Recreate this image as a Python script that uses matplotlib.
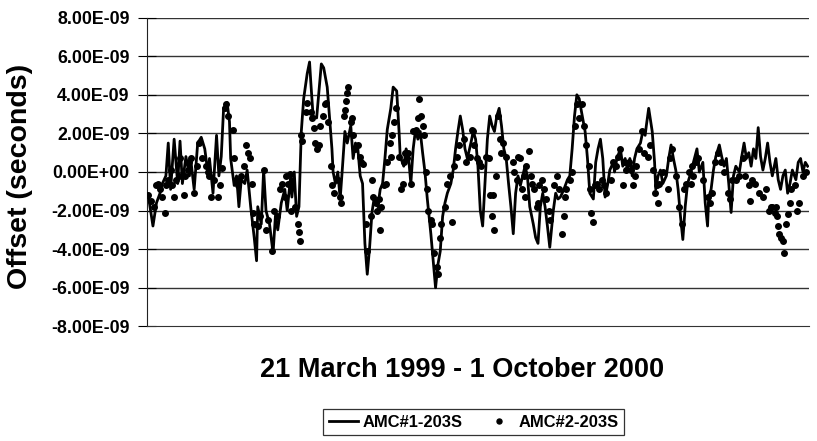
import numpy as np
import matplotlib
matplotlib.use("Agg")
import matplotlib.pyplot as plt
from matplotlib.ticker import FuncFormatter

plt.rcParams['font.family'] = ['Liberation Sans', 'DejaVu Sans']

# AMC#1-203S, day since 21 March 1999 and offset in ns
amc1_day = [0, 4, 7, 10, 12, 15, 17, 19, 22, 25, 27, 29, 32, 35, 36, 39, 42, 45, 48, 51,
            52, 55, 58, 60, 62, 64, 67, 69, 70, 73, 75, 77, 79, 82, 84, 87, 90, 92, 93, 96,
            98, 100, 103, 106, 108, 110, 113, 116, 118, 121, 122, 124, 126, 128, 130, 132, 135, 137, 138, 140,
            143, 145, 147, 149, 152, 154, 156, 157, 159, 161, 163, 165, 167, 169, 172, 174, 176, 178, 180, 182,
            184, 186, 188, 190, 192, 195, 197, 199, 201, 203, 206, 208, 211, 213, 214, 217, 219, 221, 223, 225,
            227, 229, 231, 233, 235, 237, 240, 242, 244, 246, 248, 250, 252, 254, 257, 259, 261, 263, 265, 267,
            269, 271, 274, 276, 278, 280, 282, 284, 286, 288, 290, 292, 294, 296, 298, 300, 302, 304, 306, 308,
            310, 312, 314, 316, 318, 320, 322, 324, 327, 329, 331, 333, 335, 337, 339, 341, 344, 346, 348, 350,
            353, 356, 358, 360, 362, 364, 366, 368, 371, 373, 375, 378, 380, 382, 384, 386, 388, 390, 392, 395,
            396, 398, 401, 403, 405, 407, 409, 411, 413, 415, 418, 420, 422, 423, 425, 428, 430, 431, 433, 435,
            437, 440, 442, 444, 446, 448, 450, 452, 454, 456, 458, 460, 463, 466, 468, 471, 473, 475, 476, 478,
            480, 482, 485, 487, 489, 491, 493, 495, 497, 499, 502, 504, 506, 508, 510, 512, 514, 516, 518, 520,
            522, 524, 526, 528, 530, 533, 535, 537, 539, 541, 543, 545, 547, 550, 552, 554, 556, 558, 560]
amc1_ns = [-1.2, -2.8, -1.6, -1.1, -0.6, -0.2, 1.5, -0.9, 1.7, -0.6, 1.6, -0.6, 0.8, -0.2, 0.7, -0.9, 1.5, 1.8, 1.2, -0.2,
           0.7, -1.1, 1.9, -0.2, 0.8, 3.3, 3.6, 2.6, 0.7, -0.7, -0.2, -1.8, -0.4, -0.6, 0.1, -1.8, -3.4, -4.6, -1.8, -2.7,
           0.1, -2.0, -2.7, -4.2, -2.3, -3.0, -1.6, -0.9, -2.0, -0.2, -1.3, 0.0, -2.3, -1.8, 2.1, 3.8, 5.1, 5.7, 4.7, 2.9,
           2.8, 4.2, 5.6, 5.4, 4.4, 2.8, 1.2, 0.0, -0.6, 0.0, -1.4, 0.3, 2.1, 1.5, 2.4, 0.7, 1.5, 1.2, -0.2, -0.6,
           -3.7, -5.3, -3.9, -2.1, -1.3, -1.8, -0.9, -0.6, 0.7, 2.2, 3.3, 4.4, 4.2, 2.1, 0.8, 0.3, 1.2, 0.8, -0.6, 1.2,
           2.2, 1.7, 2.1, 1.0, 0.0, -1.4, -3.2, -4.6, -6.0, -4.8, -4.1, -2.3, -1.6, -1.1, -0.6, 0.1, 1.2, 2.1, 2.9, 2.2,
           1.2, 0.7, 1.5, 2.1, 1.7, 0.3, -2.0, -2.8, -0.6, 1.7, 2.9, 2.4, 2.1, 2.9, 3.3, 2.4, 1.2, 0.7, -0.6, -1.8,
           -3.2, -1.1, -0.2, -0.7, -0.2, 0.3, -0.2, -1.8, -2.7, -3.4, -3.7, -1.8, -1.1, -1.8, -2.8, -3.9, -2.0, -1.1, -1.4, -1.3,
           -0.9, -0.4, -0.2, 1.2, 2.9, 4.0, 3.8, 3.1, 2.1, 0.7, -1.1, -1.4, 0.5, 1.2, 1.7, 0.7, -1.3, -0.7, 0.1, 0.5,
           0.0, 0.7, 1.2, 0.3, 0.7, 0.1, 0.7, -0.2, 0.7, 1.2, 1.5, 2.1, 1.9, 2.4, 3.3, 2.1, 0.5, -0.9, -0.2, 0.1,
           -0.6, -0.2, 0.7, 1.4, 0.7, 0.1, -0.9, -2.3, -3.5, -1.8, -0.6, -0.2, 0.5, 1.2, 0.0, 0.5, -1.6, -2.8, -1.3, -0.9,
           0.1, 0.8, 1.4, 0.8, 0.3, 0.7, -0.6, -2.1, -0.2, 0.3, 0.0, 0.8, 1.5, 0.7, 1.0, 0.3, 1.2, 0.7, 2.3, 0.8,
           0.1, 0.7, 1.5, 0.5, -0.2, 0.7, -0.4, -0.9, -0.2, 0.1, -1.1, -0.6, 0.1, -0.4, 0.5, 0.7, 0.0, 0.5, 0.3]

# AMC#2-203S
amc2_day = [0, 2, 5, 7, 8, 10, 12, 14, 15, 17, 19, 20, 22, 24, 26, 27, 30, 31, 34, 35,
            36, 39, 41, 43, 46, 49, 51, 52, 53, 56, 59, 61, 63, 65, 66, 68, 72, 73, 75, 76,
            79, 81, 83, 85, 86, 88, 89, 90, 93, 95, 98, 100, 102, 105, 107, 109, 112, 114, 116, 117,
            119, 120, 121, 125, 127, 128, 129, 130, 131, 134, 135, 138, 139, 141, 142, 143, 145, 146, 148, 150,
            151, 153, 155, 156, 158, 161, 163, 164, 166, 167, 168, 169, 170, 172, 173, 174, 176, 178, 180, 181,
            182, 185, 186, 189, 190, 191, 193, 194, 196, 197, 198, 200, 202, 203, 205, 206, 207, 209, 210, 213,
            215, 216, 217, 218, 220, 221, 223, 225, 227, 229, 230, 232, 233, 234, 236, 237, 238, 240, 241, 243,
            245, 246, 248, 249, 252, 254, 256, 258, 260, 262, 264, 268, 270, 273, 276, 275, 277, 279, 281, 283,
            287, 289, 290, 292, 293, 294, 295, 297, 299, 300, 301, 304, 310, 311, 313, 314, 316, 317, 319, 320,
            321, 323, 325, 326, 328, 330, 331, 332, 334, 336, 338, 340, 341, 345, 347, 349, 351, 353, 354, 355,
            358, 360, 362, 364, 366, 368, 370, 372, 374, 375, 376, 378, 379, 381, 383, 385, 387, 389, 393, 395,
            397, 399, 401, 403, 404, 406, 408, 410, 412, 413, 414, 417, 419, 421, 424, 426, 429, 430, 432, 433,
            434, 437, 441, 443, 445, 448, 451, 453, 455, 457, 459, 462, 461, 463, 465, 467, 471, 475, 477, 479,
            481, 484, 486, 489, 492, 494, 496, 499, 502, 505, 507, 510, 511, 513, 515, 519, 522, 525, 527, 529,
            530, 532, 533, 534, 535, 536, 537, 539, 540, 542, 543, 545, 546, 549, 551, 553, 556, 559]
amc2_ns = [-1.2, -1.5, -1.8, -0.7, -0.6, -0.9, -1.3, -2.1, -0.7, -0.4, 0.1, -0.7, -1.3, -0.4, -0.2, 0.7, -1.2, -0.2, 0.1, 0.5,
           0.7, -1.1, 0.3, 1.5, 0.7, 0.3, 0.0, -0.2, -1.3, -0.4, -1.3, -0.7, 0.2, 3.3, 3.5, 2.9, 2.2, 0.7, -0.4, -0.7,
           -0.2, 0.3, 1.4, 1.0, 0.7, -0.6, -2.1, -2.7, -2.8, -2.3, 0.1, -3.0, -2.5, -4.1, -2.0, -2.3, -0.9, -0.6, -1.3, -0.2,
           -0.6, -0.1, -2.0, -1.8, -2.7, -3.1, -3.6, 1.9, 1.6, 3.1, 3.6, 3.1, 2.8, 2.3, 1.5, 1.2, 1.4, 2.4, 2.9, 3.5,
           3.6, 2.6, 0.3, -0.7, -1.1, -0.4, -1.3, -1.6, 2.9, 3.2, 3.7, 4.1, 4.4, 2.6, 2.8, 1.9, 1.2, 1.4, 0.8, 0.5,
           0.4, -2.7, -4.1, -2.3, -0.4, -1.3, -1.6, -2.0, -1.4, -3.0, -1.8, -0.7, -0.6, 0.5, 1.5, 0.8, 1.9, 2.6, 3.3, 0.8,
           -0.9, -0.6, 0.5, 1.0, 0.7, 1.0, -0.6, 2.1, 2.2, 2.8, 3.8, 2.9, 2.4, 1.9, 0.0, -0.9, -2.0, -2.5, -2.7, -4.2,
           -4.9, -5.3, -3.4, -2.7, -1.8, -0.6, -0.2, -2.6, 0.3, 0.8, 1.4, 1.7, 0.5, 0.8, 2.1, 2.2, 1.4, 0.7, 0.5, 0.3,
           0.8, 0.7, -1.2, -2.3, -1.2, -3.0, -0.2, 2.9, 1.7, 1.0, 1.5, 0.8, 0.5, 0.0, -0.4, 0.8, 0.7, -0.9, -0.2, -1.3,
           0.3, 1.1, -0.2, -0.6, -0.9, -1.8, -1.6, -0.7, -0.4, -0.9, -1.4, -2.0, -2.5, -0.7, -0.2, -0.9, -3.2, -2.3, -1.3, -0.9,
           -0.4, 0.0, 2.4, 3.5, 2.8, 3.5, 2.4, 1.4, 0.3, -0.9, -2.1, -2.6, -0.7, -0.6, -0.9, -0.4, -0.7, -1.1, -0.4, 0.5,
           0.3, 0.8, 1.2, -0.7, 0.5, 0.1, 0.5, 0.1, -0.7, -0.2, 0.3, 1.2, 2.1, 1.0, 0.8, 1.4, 0.1, -1.1, -0.7, -1.6,
           -0.6, 0.0, -0.9, 0.7, 1.2, -0.2, -1.8, -2.7, -0.9, -0.6, 0.0, 0.3, -0.6, -0.2, 0.5, 0.7, -0.4, -1.3, -1.6, -1.1,
           0.5, 1.0, 0.5, 0.0, -1.1, -1.4, -0.4, -0.4, -0.2, 0.7, -0.2, -0.7, -1.5, -0.4, -0.6, -1.1, -1.3, -0.9, -2.0, -1.8,
           -1.8, -2.1, -1.8, -2.3, -2.8, -3.2, -3.4, -3.6, -4.2, -2.7, -2.2, -1.6, -0.9, -0.7, -2.0, -1.6, -0.2, 0.0]

period = "21 March 1999 - 1 October 2000"
y_ticks = [8e-9, 6e-9, 4e-9, 2e-9, 0, -2e-9, -4e-9, -6e-9, -8e-9]

fig = plt.figure(figsize=(8.17, 4.41), dpi=100)
ax = fig.add_axes([0.180, 0.260, 0.810, 0.700])

ax.plot(amc1_day, np.array(amc1_ns) * 1e-9, color='black', lw=2.0, label='AMC#1-203S', zorder=3)
ax.plot(amc2_day, np.array(amc2_ns) * 1e-9, ls='none', marker='o', ms=4.0, color='black',
        label='AMC#2-203S', zorder=4)

ax.set_xlim(-1, 561)
ax.set_ylim(-8e-9, 8e-9)
ax.set_yticks(y_ticks)
ax.yaxis.set_major_formatter(FuncFormatter(lambda v, p: f"{v:.2E}"))
ax.set_xticks([])
for v in y_ticks[:-1]:
    ax.axhline(v, color='#333333', lw=1.0, zorder=1)

for s in ['top', 'right']:
    ax.spines[s].set_visible(False)
ax.spines['left'].set_color('#222222')
ax.spines['bottom'].set_color('#333333')
ax.tick_params(axis='y', direction='inout', length=13, width=0.8, pad=6, labelsize=12.8)
for lab in ax.get_yticklabels():
    lab.set_fontweight('bold')

fig.text(0.024, 0.60, 'Offset (seconds)', rotation=90, ha='center', va='center',
         fontsize=20.5, fontweight='bold')
fig.text(0.5655, 0.160, period, ha='center', va='center', fontsize=19.5, fontweight='bold')

leg = fig.legend(loc='center', bbox_to_anchor=(0.580, 0.043), ncol=2, frameon=True, fancybox=False,
                 edgecolor='black', fontsize=11.9, handlelength=1.75, columnspacing=1.3,
                 handletextpad=0.3, borderpad=0.35, borderaxespad=0, markerscale=0.9)
leg.get_frame().set_linewidth(0.9)
for t in leg.get_texts():
    t.set_fontweight('bold')

fig.savefig('out.png', dpi=100)
